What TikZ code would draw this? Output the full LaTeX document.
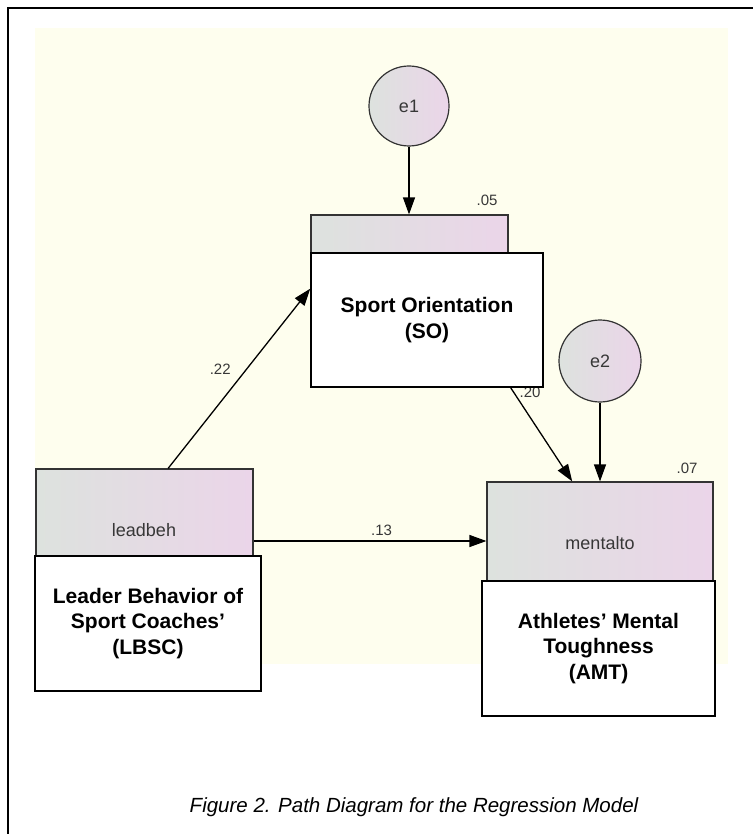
\documentclass[tikz,border=0pt]{standalone}
\usepackage{fontspec}
\setmainfont{Liberation Sans}
\usepackage{tkz-euclide}
\usetikzlibrary{arrows.meta}
\definecolor{bgyellow}{RGB}{254,254,238}
\definecolor{grayleft}{RGB}{221,226,222}
\definecolor{pinkright}{RGB}{235,213,233}
\definecolor{labgray}{RGB}{55,55,55}
\tikzset{
  obsbox/.style={draw=black!80,line width=1.2pt,rectangle,inner sep=0pt,
    left color=grayleft,right color=pinkright},
  namebox/.style={draw=black,line width=1.6pt,fill=white,rectangle,
    align=center,inner sep=0pt,font=\fontsize{21}{25.5}\selectfont\bfseries},
  errc/.style={draw=black!80,line width=1.2pt,circle,inner sep=0pt,
    left color=grayleft,right color=pinkright,text=labgray,
    font=\fontsize{18}{20}\selectfont},
  vartxt/.style={text=labgray,font=\fontsize{18}{20}\selectfont},
  coef/.style={text=labgray,inner sep=1pt,font=\fontsize{15}{16}\selectfont},
  regarrow/.style={line width=1.3pt,-{Triangle[length=17pt,width=12pt]}}
}

\begin{document}
\begin{tikzpicture}[x=1pt,y=-1pt]
   % \tkzInit[xmax=753,ymax=834]
   % \tkzGrid
\useasboundingbox (0,0) rectangle (753,834);
\fill[bgyellow] (35,28) rectangle (728,664);
\draw[line width=1.5pt] (8,834) -- (8,8) -- (753,8);
\tkzDefPoints{409/106/E1,600/361/E2,409.5/265/SOg,427/320/SOw,%
  144.5/541/LBg,148/623.5/LBw,600/541/MTg,598.5/648.5/MTw}
% observed variables
\node[obsbox,minimum width=197pt,minimum height=100pt] (sogray) at (SOg) {};
\node[obsbox,minimum width=217pt,minimum height=144pt] (lbgray) at (LBg) {};
\node[obsbox,minimum width=226pt,minimum height=118pt] (mtgray) at (MTg) {};
\node[vartxt] (leadtxt) at (144,530) {leadbeh};
\node[vartxt] (menttxt) at (600,543) {mentalto};
\node[coef] (c20) at (530,392) {.20};
% names of the scales
\node[namebox,minimum width=232pt,minimum height=134pt] (sobox) at (SOw)
  {Sport Orientation\\(SO)};
\node[namebox,minimum width=226pt,minimum height=135pt] (lbbox) at (LBw)
  {Leader Behavior of\\Sport Coaches’\\(LBSC)};
\node[namebox,minimum width=233pt,minimum height=135pt] (mtbox) at (MTw)
  {Athletes’ Mental\\Toughness\\(AMT)};
% errors
\node[errc,minimum size=80pt] (e1) at (E1) {e1};
\node[errc,minimum size=82pt] (e2) at (E2) {e2};
\node[coef] (r05) at (487,200) {.05};
\node[coef] (r07) at (687,468) {.07};
% paths
\draw[regarrow] (e1) -- (e1 |- sogray.north);
\draw[regarrow] (e2) -- (e2 |- mtgray.north);
\draw[regarrow] (lbgray.72) -- (sobox.165.5)
  node[coef,pos=0.55,left=14pt] (c22) {.22};
\draw[regarrow] (lbgray.east) -- (mtgray.west)
  node[coef,pos=0.55,above=4pt] (c13) {.13};
\draw[regarrow] (sobox.-39.6) -- (mtgray.115.4);
\node[font=\fontsize{20.5}{22}\selectfont\itshape] (caption) at (414,807)
  {Figure 2. Path Diagram for the Regression Model};
\end{tikzpicture}
\end{document}
